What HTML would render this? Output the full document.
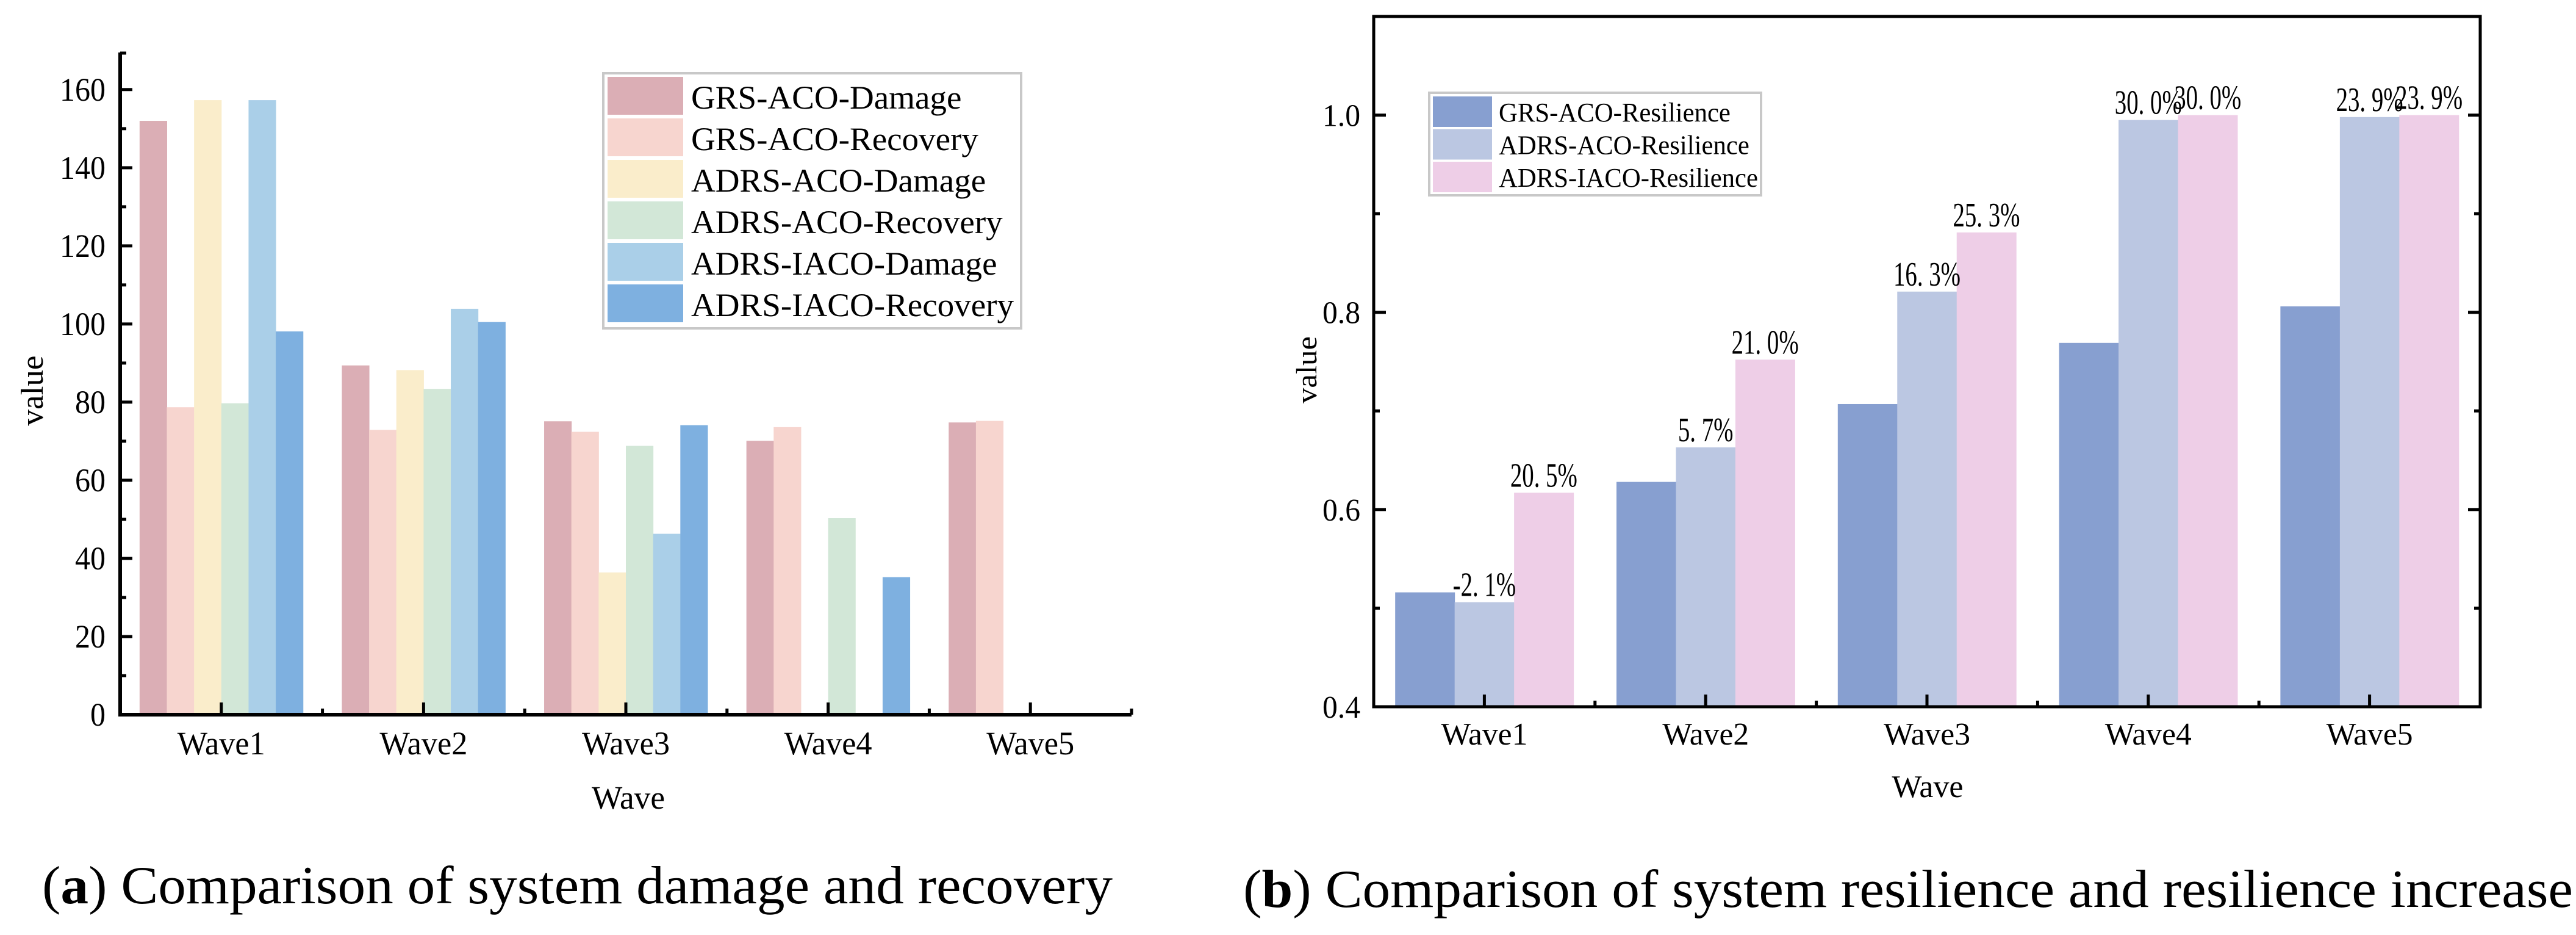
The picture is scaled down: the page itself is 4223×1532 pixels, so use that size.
<!DOCTYPE html>
<html><head><meta charset="utf-8"><style>
html,body{margin:0;padding:0;background:#fff;}
svg{display:block;}
svg text{font-family:"Liberation Serif","Times New Roman",serif;}
</style></head><body>
<svg id="root" width="4223" height="1532" viewBox="0 0 4223 1532" xmlns="http://www.w3.org/2000/svg">
<g id="chartA"></g>
<g id="chartB"></g>
<text x="69" y="1480" font-size="88" textLength="1755" lengthAdjust="spacingAndGlyphs">(<tspan font-weight="bold">a</tspan>) Comparison of system damage and recovery</text>
<text x="2038" y="1486" font-size="88" textLength="2180" lengthAdjust="spacingAndGlyphs">(<tspan font-weight="bold">b</tspan>) Comparison of system resilience and resilience increase</text>
</svg>
<script>
const categories = ["Wave1","Wave2","Wave3","Wave4","Wave5"];
const seriesA = ["GRS-ACO-Damage","GRS-ACO-Recovery","ADRS-ACO-Damage","ADRS-ACO-Recovery","ADRS-IACO-Damage","ADRS-IACO-Recovery"];
const grsAcoDamage = [152.0, 89.4, 75.1, 70.1, 74.8];
const grsAcoRecovery = [78.7, 72.9, 72.4, 73.6, 75.2];
const adrsAcoDamage = [157.3, 88.2, 36.4, 0, 0];
const adrsAcoRecovery = [79.7, 83.4, 68.8, 50.3, 0];
const adrsIacoDamage = [157.3, 103.9, 46.3, 0, 0];
const adrsIacoRecovery = [98.1, 100.5, 74.1, 35.2, 0];
const yTicksA = [0,20,40,60,80,100,120,140,160];
const seriesB = ["GRS-ACO-Resilience","ADRS-ACO-Resilience","ADRS-IACO-Resilience"];
const grsAcoRes = [0.516, 0.628, 0.707, 0.769, 0.806];
const adrsAcoRes = [0.506, 0.663, 0.821, 0.995, 0.998];
const adrsIacoRes = [0.617, 0.752, 0.881, 1.0, 1.0];
const adrsAcoLabels = ["-2. 1%","5. 7%","16. 3%","30. 0%","23. 9%"];
const adrsIacoLabels = ["20. 5%","21. 0%","25. 3%","30. 0%","23. 9%"];
const yTicksB = [0.4,0.6,0.8,1.0];

const NS="http://www.w3.org/2000/svg";
function mk(parent,tag,attrs,text){const e=document.createElementNS(NS,tag);for(const k in attrs)e.setAttribute(k,attrs[k]);if(text!==undefined)e.textContent=text;parent.appendChild(e);return e;}
function fit(el,factor){const n=el.getComputedTextLength();if(n>0){el.setAttribute('textLength',(n*factor).toFixed(1));el.setAttribute('lengthAdjust','spacingAndGlyphs');}}
function factorFor(parent,str,size,target){const t=mk(parent,'text',{x:-9999,y:-9999,'font-size':size},str);const n=t.getComputedTextLength();parent.removeChild(t);return n>0?target/n:1;}

// ---------- Chart A ----------
(function(){
const g=document.getElementById('chartA');
const x0=197,x1=1855,y0=1171,ytop=86,ymax=169.5;
const ys=v=>y0-(v/ymax)*(y0-ytop);
const cw=(x1-x0)/categories.length;
const bw=cw*0.808/6;
const colors=["#DBAEB5","#F7D5CF","#FAEDCB","#D2E7D7","#AACFE8","#7EB0E0"];
const data=[grsAcoDamage,grsAcoRecovery,adrsAcoDamage,adrsAcoRecovery,adrsIacoDamage,adrsIacoRecovery];
data.forEach((arr,s)=>{arr.forEach((v,i)=>{
 if(v<=0)return;
 const gx=x0+i*cw+(cw-6*bw)/2+s*bw;
 const r=mk(g,'rect',{x:gx,y:ys(v),width:bw+0.5,height:y0-ys(v),fill:colors[s]});
 
 
});});
const ax=mk(g,'path',{d:`M${x0} ${ytop}V${y0}H${x1}`,stroke:'#000','stroke-width':6,fill:'none'});

for(let v=0;v<=160;v+=10){
 const major=v%20===0;
 mk(g,'line',{x1:x0,x2:x0+(major?20:10),y1:ys(v),y2:ys(v),stroke:'#000','stroke-width':5});
}
mk(g,'line',{x1:x0,x2:x0+10,y1:ytop+1,y2:ytop+1,stroke:'#000','stroke-width':5});
const fTick=factorFor(g,'160',54,75);
yTicksA.forEach(v=>{
 const t=mk(g,'text',{x:173,y:ys(v)+18,'font-size':54,'text-anchor':'end'},String(v));
 
 fit(t,fTick);
});
const fCat=factorFor(g,'Wave1',54,144);
categories.forEach((c,i)=>{
 const cx=x0+(i+0.5)*cw;
 mk(g,'line',{x1:cx,x2:cx,y1:y0,y2:y0-20,stroke:'#000','stroke-width':5});
 mk(g,'line',{x1:x0+(i+1)*cw,x2:x0+(i+1)*cw,y1:y0,y2:y0-10,stroke:'#000','stroke-width':5});
 const t=mk(g,'text',{x:cx,y:1236,'font-size':54,'text-anchor':'middle'},c);
 
 fit(t,fCat);
});
const xt=mk(g,'text',{x:1030,y:1325,'font-size':54,'text-anchor':'middle'},'Wave');

xt.setAttribute('textLength','120');xt.setAttribute('lengthAdjust','spacingAndGlyphs');
const yt=mk(g,'text',{x:0,y:0,'font-size':52,'text-anchor':'middle',transform:'translate(70,640) rotate(-90)'},'value');

yt.setAttribute('textLength','115');yt.setAttribute('lengthAdjust','spacingAndGlyphs');
const lg=mk(g,'g',{});

mk(lg,'rect',{x:989,y:120,width:685,height:418,fill:'#fff',stroke:'#c8c8c8','stroke-width':4});
const fLeg=factorFor(g,'ADRS-IACO-Recovery',54,529);
seriesA.forEach((s,i)=>{
 const ry=126+i*68;
 const sw=mk(lg,'rect',{x:996,y:ry,width:124,height:62,fill:colors[i]});
 
 const t=mk(lg,'text',{x:1133,y:ry+52,'font-size':54},s);
 
 fit(t,fLeg);
});
})();

// ---------- Chart B ----------
(function(){
const g=document.getElementById('chartB');
const x0=2252,x1=4066,y0=1158,ytop=27,ymin=0.4,ymax=1.1;
const ys=v=>y0-((v-ymin)/(ymax-ymin))*(y0-ytop);
const cw=(x1-x0)/categories.length;
const bw=cw*0.806/3;
const colors=["#879FD0","#BBC7E2","#EECEE7"];
const data=[grsAcoRes,adrsAcoRes,adrsIacoRes];
const labels=[null,adrsAcoLabels,adrsIacoLabels];
const fVal=factorFor(g,'30. 0%',56,110);
data.forEach((arr,s)=>{arr.forEach((v,i)=>{
 const gx=x0+i*cw+(cw-3*bw)/2+s*bw;
 const r=mk(g,'rect',{x:gx,y:ys(v),width:bw+0.5,height:y0-ys(v),fill:colors[s]});
 
 
});});
data.forEach((arr,s)=>{ if(!labels[s])return; arr.forEach((v,i)=>{
 const gx=x0+i*cw+(cw-3*bw)/2+s*bw;
 const t=mk(g,'text',{x:gx+bw/2,y:ys(v)-10,'font-size':56,'text-anchor':'middle'},labels[s][i]);
 
 fit(t,fVal);
});});
const fr=mk(g,'rect',{x:x0,y:ytop,width:x1-x0,height:y0-ytop,fill:'none',stroke:'#000','stroke-width':5});

for(let k=0;k<=6;k++){
 const v=0.4+k*0.1, major=k%2===0, L=major?20:10;
 mk(g,'line',{x1:x0,x2:x0+L,y1:ys(v),y2:ys(v),stroke:'#000','stroke-width':5});
 mk(g,'line',{x1:x1,x2:x1-L,y1:ys(v),y2:ys(v),stroke:'#000','stroke-width':5});
}
const fTick=factorFor(g,'1.0',52,62);
yTicksB.forEach(v=>{
 const t=mk(g,'text',{x:2230,y:ys(v)+18,'font-size':52,'text-anchor':'end'},v.toFixed(1));
 
 fit(t,fTick);
});
const fCat=factorFor(g,'Wave1',52,142);
categories.forEach((c,i)=>{
 const cx=x0+(i+0.5)*cw;
 mk(g,'line',{x1:cx,x2:cx,y1:y0,y2:y0-20,stroke:'#000','stroke-width':5});
 if(i<4)mk(g,'line',{x1:x0+(i+1)*cw,x2:x0+(i+1)*cw,y1:y0,y2:y0-10,stroke:'#000','stroke-width':5});
 const t=mk(g,'text',{x:cx,y:1220,'font-size':52,'text-anchor':'middle'},c);
 
 fit(t,fCat);
});
const xt=mk(g,'text',{x:3160,y:1306,'font-size':52,'text-anchor':'middle'},'Wave');

xt.setAttribute('textLength','117');xt.setAttribute('lengthAdjust','spacingAndGlyphs');
const yt=mk(g,'text',{x:0,y:0,'font-size':48,'text-anchor':'middle',transform:'translate(2158,606) rotate(-90)'},'value');

yt.setAttribute('textLength','110');yt.setAttribute('lengthAdjust','spacingAndGlyphs');
const lg=mk(g,'g',{});

mk(lg,'rect',{x:2343,y:152,width:544,height:168,fill:'#fff',stroke:'#c8c8c8','stroke-width':4});
const fLeg=factorFor(g,'ADRS-IACO-Resilience',44,425);
seriesB.forEach((s,i)=>{
 const ry=158+i*53.5;
 const sw=mk(lg,'rect',{x:2349,y:ry,width:97,height:50,fill:colors[i]});
 
 const t=mk(lg,'text',{x:2457,y:ry+41,'font-size':44},s);
 
 fit(t,fLeg);
});
})();
</script>
</body></html>
